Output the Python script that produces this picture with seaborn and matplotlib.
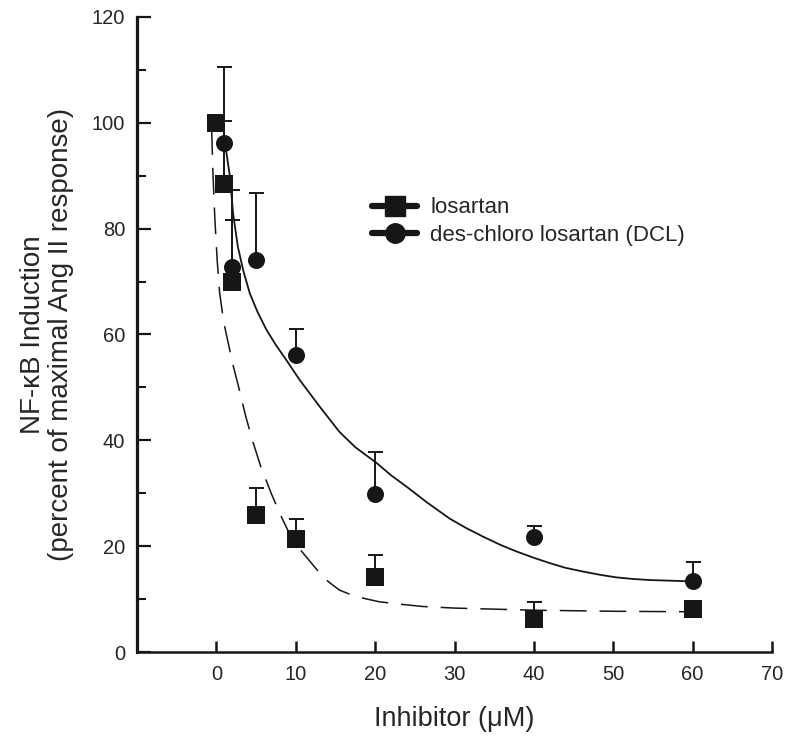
import matplotlib
matplotlib.use('Agg')
import matplotlib.pyplot as plt
from matplotlib.lines import Line2D
from matplotlib.ticker import MultipleLocator
import seaborn as sns
import numpy as np

# dati (media + errore superiore)
dose_los = [0, 1, 2, 5, 10, 20, 40, 60]
los_mean = [100, 88.5, 69.9, 25.9, 21.3, 14.2, 6.2, 8.2]
los_err = [0, 11.8, 11.8, 5.0, 3.8, 4.1, 3.3, 0]

dose_dcl = [1, 2, 5, 10, 20, 40, 60]
dcl_mean = [96.2, 72.8, 74.1, 56.1, 29.9, 21.8, 13.5]
dcl_err = [14.4, 14.5, 12.6, 5.0, 7.8, 2.1, 3.6]

# curve di fit (punti letti lungo le curve)
fit_los_x = [-0.6, -0.45, -0.2, 0.1, 0.4, 0.9, 1.4, 2.1, 2.9, 3.7, 4.6, 5.6, 6.9, 8.2, 9.0,
             10.7, 12.8, 14.1, 15.5, 17.0, 18.7, 20.5, 22.7, 26, 30, 35, 40, 50, 60]
fit_los_y = [99, 91, 82, 74, 68, 62.5, 59, 54.2, 49.5, 44.5, 39.7, 35, 30, 25.5, 23,
             19.1, 15.3, 13.3, 11.7, 10.8, 10.1, 9.5, 9.1, 8.6, 8.3, 8.1, 7.9, 7.7, 7.6]

fit_dcl_x = [1.1, 1.7, 2.1, 2.7, 3.4, 4.2, 5.2, 6.3, 7.5, 8.8, 10.5, 11.8, 13, 14.3, 15.5,
             17.5, 20.2, 22, 24, 26.5, 29.4, 31.5, 33.6, 35.7, 37.8, 40, 42, 44, 46.2,
             48.3, 50.4, 52.5, 54.6, 56.7, 58.8, 60]
fit_dcl_y = [96, 89.9, 82.9, 76.6, 72, 67.8, 64.2, 60.9, 58, 55.2, 51.4, 48.8, 46.4, 43.9, 41.6,
             38.7, 35.7, 33.4, 31.2, 28.3, 25.2, 23.4, 21.8, 20.3, 19.0, 17.8, 16.8, 15.9, 15.2,
             14.6, 14.1, 13.8, 13.6, 13.5, 13.4, 13.3]

labels = ["losartan", "des-chloro losartan (DCL)"]
black = "#161616"

sns.set_style("ticks")
plt.rcParams['font.family'] = ['Liberation Sans', 'DejaVu Sans']

fig = plt.figure(figsize=(7.93, 7.41), dpi=100)
ax = fig.add_axes([0.1728, 0.1201, 0.8007, 0.857])

sns.lineplot(x=fit_los_x, y=fit_los_y, estimator=None, sort=False, color=black,
             lw=1.1, linestyle=(0, (17.5, 8.5)), ax=ax)
sns.lineplot(x=fit_dcl_x, y=fit_dcl_y, estimator=None, sort=False, color=black,
             lw=1.3, ax=ax)

ax.errorbar(dose_los, los_mean, yerr=[np.zeros(len(los_err)), los_err], fmt='none',
            ecolor=black, elinewidth=1.4, capsize=5.4, capthick=1.4, zorder=3)
ax.errorbar(dose_dcl, dcl_mean, yerr=[np.zeros(len(dcl_err)), dcl_err], fmt='none',
            ecolor=black, elinewidth=1.4, capsize=5.4, capthick=1.4, zorder=3)

sns.scatterplot(x=dose_los, y=los_mean, marker='s', s=150, color=black, linewidth=0,
                zorder=4, ax=ax)
sns.scatterplot(x=dose_dcl, y=dcl_mean, marker='o', s=150, color=black, linewidth=0,
                zorder=4, ax=ax)

ax.set_xlim(-10, 70)
ax.set_ylim(0, 120)
ax.set_xticks(np.arange(0, 71, 10))
ax.yaxis.set_major_locator(MultipleLocator(20))
ax.yaxis.set_minor_locator(MultipleLocator(10))

sns.despine(ax=ax)
ax.spines['left'].set_linewidth(2.3)
ax.spines['bottom'].set_linewidth(1.8)
ax.spines['left'].set_color(black)
ax.spines['bottom'].set_color(black)

ax.tick_params(axis='x', which='major', direction='in', length=8, width=1.8,
               labelsize=14.5, pad=9.5, color=black)
ax.tick_params(axis='y', which='major', direction='in', length=10, width=1.6,
               labelsize=14.5, pad=8.6, color=black)
ax.tick_params(axis='y', which='minor', direction='in', length=6.5, width=1.5, color=black)

ax.set_xlabel("Inhibitor (\u03bcM)", fontsize=19.5, labelpad=16)
ax.set_ylabel("NF-\u03baB Induction\n(percent of maximal Ang II response)", fontsize=20,
              labelpad=13, linespacing=1.1)

handles = [Line2D([], [], color=black, lw=4.5, marker='s', markersize=14),
           Line2D([], [], color=black, lw=4.5, marker='o', markersize=14)]
ax.legend(handles, labels, loc='upper left', bbox_to_anchor=(0.37, 0.716),
          frameon=False, fontsize=16, handlelength=2.03, handletextpad=0.59,
          labelspacing=0.3, borderpad=0, borderaxespad=0)

plt.savefig("out.png", dpi=100)
